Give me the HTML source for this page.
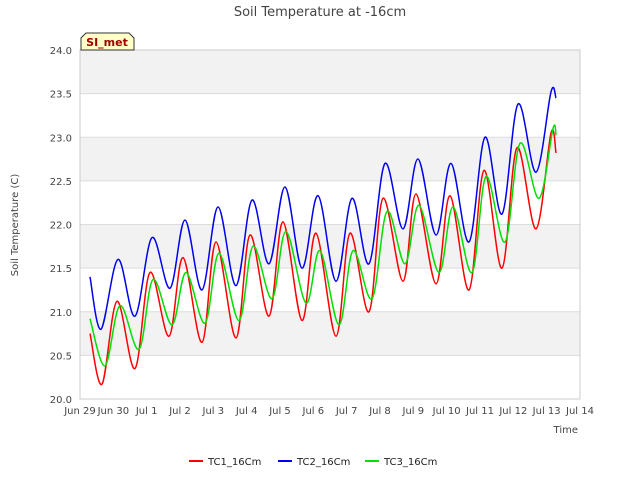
<!DOCTYPE html>
<html><head><meta charset="utf-8"><style>
body{margin:0;background:#fff;font-family:"Liberation Sans","DejaVu Sans",sans-serif;}
svg text{font-family:"DejaVu Sans","Liberation Sans",sans-serif;}
</style></head><body>
<svg id="c" width="640" height="480" xmlns="http://www.w3.org/2000/svg">
<text x="320" y="16" text-anchor="middle" font-size="13" fill="#444">Soil Temperature at -16cm</text>
<g id="grid"></g><g id="axes"></g><g id="series"></g>
<g>
<path d="M81,50 L81,38 L86,33 L129,33 L134,38 L134,50 Z" fill="#ffffc8" stroke="#333" stroke-width="1"/>
<text x="107" y="46" text-anchor="middle" font-size="11" font-weight="bold" fill="#a00000">SI_met</text></g>
<text x="18" y="225" transform="rotate(-90 18 225)" text-anchor="middle" font-size="10" fill="#444">Soil Temperature (C)</text>
<text x="578" y="433" text-anchor="end" font-size="10" fill="#444">Time</text>
<g id="legend"></g>
</svg>
<script>
const yTicks=[20.0,20.5,21.0,21.5,22.0,22.5,23.0,23.5,24.0];
const xTickLabels=["Jun 29","Jun 30","Jul 1","Jul 2","Jul 3","Jul 4","Jul 5","Jul 6","Jul 7","Jul 8","Jul 9","Jul 10","Jul 11","Jul 12","Jul 13","Jul 14"];
const seriesNames=["TC1_16Cm","TC2_16Cm","TC3_16Cm"];
const tc1T=[0.30,0.66,1.11,1.65,2.10,2.67,3.09,3.66,4.08,4.68,5.10,5.67,6.09,6.66,7.08,7.68,8.10,8.67,9.09,9.69,10.08,10.68,11.10,11.67,12.12,12.66,13.11,13.68,14.13,14.28];
const tc1V=[20.75,20.17,21.12,20.35,21.45,20.72,21.62,20.65,21.8,20.7,21.88,20.95,22.03,20.9,21.9,20.72,21.9,21.0,22.3,21.35,22.35,21.32,22.33,21.25,22.62,21.5,22.88,21.95,23.05,22.82];
const tc2T=[0.30,0.63,1.14,1.65,2.16,2.70,3.15,3.66,4.14,4.68,5.16,5.67,6.15,6.66,7.14,7.68,8.16,8.67,9.15,9.69,10.14,10.68,11.13,11.67,12.15,12.66,13.14,13.68,14.13,14.28];
const tc2V=[21.4,20.8,21.6,20.95,21.85,21.27,22.05,21.25,22.2,21.3,22.28,21.55,22.43,21.5,22.33,21.35,22.3,21.55,22.7,21.95,22.75,21.88,22.7,21.8,23.0,22.12,23.38,22.6,23.52,23.45];
const tc3T=[0.30,0.75,1.20,1.77,2.19,2.76,3.18,3.75,4.17,4.77,5.19,5.76,6.18,6.78,7.20,7.77,8.19,8.76,9.21,9.75,10.17,10.77,11.19,11.76,12.18,12.75,13.20,13.77,14.19,14.28];
const tc3V=[20.92,20.38,21.07,20.57,21.37,20.85,21.45,20.87,21.67,20.9,21.75,21.15,21.92,21.1,21.7,20.85,21.7,21.15,22.15,21.55,22.22,21.45,22.2,21.45,22.55,21.8,22.93,22.3,23.1,23.02];
const L=80,R=580,T=50,B=399;
const xs=d=>L+(R-L)*d/15, ys=v=>B-(B-T)*(v-20)/4;
const NS="http://www.w3.org/2000/svg";
function mk(tag,attrs,parent){const e=document.createElementNS(NS,tag);for(const k in attrs)e.setAttribute(k,attrs[k]);parent.appendChild(e);return e;}
const grid=document.getElementById('grid'),axes=document.getElementById('axes'),ser=document.getElementById('series'),leg=document.getElementById('legend');
for(let i=0;i<yTicks.length-1;i++){if(i%2===1){const r=mk('rect',{x:L,y:ys(yTicks[i+1]),width:R-L,height:ys(yTicks[i])-ys(yTicks[i+1]),fill:'#f2f2f2'},grid);

}}
yTicks.forEach(v=>{const l=mk('line',{x1:L,x2:R,y1:ys(v),y2:ys(v),stroke:'#dcdcdc','stroke-width':1},grid);


const t=mk('text',{x:L-8,y:ys(v)+4,'text-anchor':'end','font-size':10,fill:'#444'},axes);t.textContent=v.toFixed(1);

});
xTickLabels.forEach((s,i)=>{const t=mk('text',{x:xs(i),y:414,'text-anchor':'middle','font-size':10,fill:'#444'},axes);t.textContent=s;

});
const fr=mk('rect',{x:L,y:T,width:R-L,height:B-T,fill:'none',stroke:'#ccc'},axes);


function path(ts,vs){const p=ts.map((t,i)=>[xs(t),ys(vs[i])]);let d=`M${p[0][0]},${p[0][1]}`;
for(let i=0;i<p.length-1;i++){const p0=p[i-1]||p[i],p1=p[i],p2=p[i+1],p3=p[i+2]||p2;
const c1=[p1[0]+(p2[0]-p0[0])/6,p1[1]+(p2[1]-p0[1])/6],c2=[p2[0]-(p3[0]-p1[0])/6,p2[1]-(p3[1]-p1[1])/6];
d+=` C${c1[0]},${c1[1]} ${c2[0]},${c2[1]} ${p2[0]},${p2[1]}`;}return d;}
const defs=[[tc1T,tc1V,'#ff0000','tc1-line'],[tc2T,tc2V,'#0000ee','tc2-line'],[tc3T,tc3V,'#00e000','tc3-line']];
defs.forEach(([t,v,c,n])=>{const e=mk('path',{d:path(t,v),fill:'none',stroke:c,'stroke-width':1.5},ser);

});
const lx=[189,278,365];
seriesNames.forEach((s,i)=>{const g=mk('g',{},leg);


mk('line',{x1:lx[i],x2:lx[i]+14,y1:461,y2:461,stroke:defs[i][2],'stroke-width':2},g);
const t=mk('text',{x:lx[i]+19,y:465,'font-size':10,fill:'#222'},g);t.textContent=s;});
</script>
</body></html>
